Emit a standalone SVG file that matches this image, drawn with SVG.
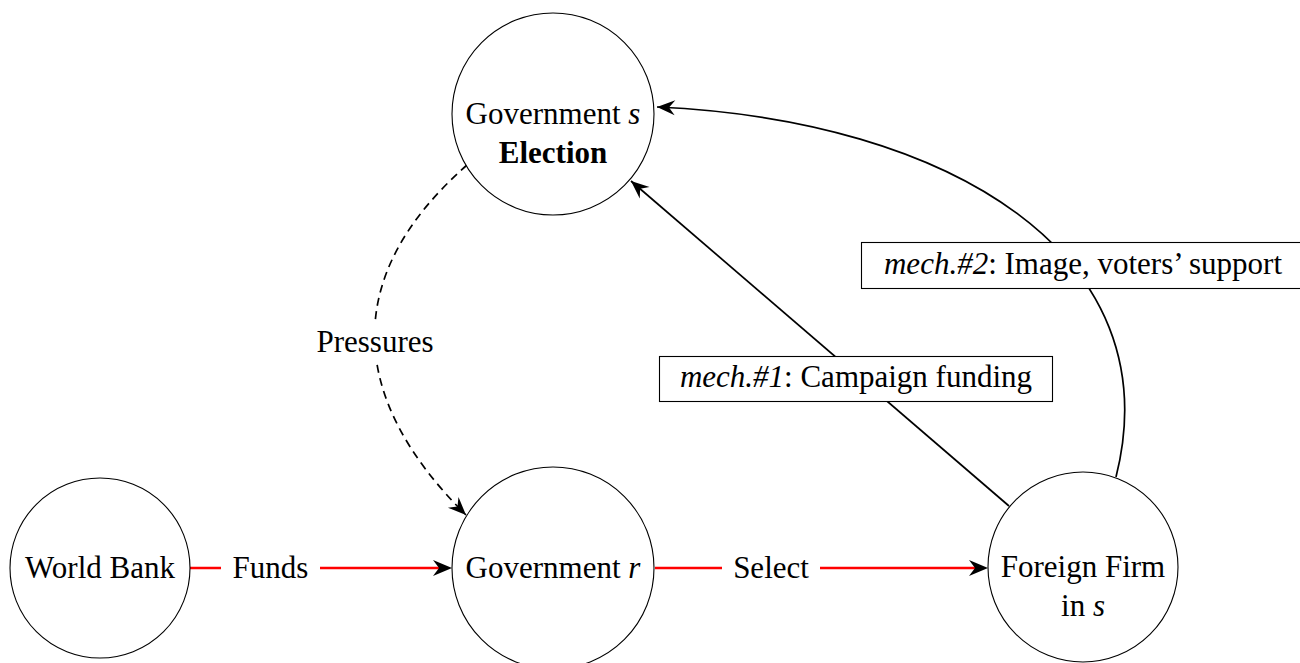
<svg xmlns="http://www.w3.org/2000/svg" width="1300" height="663" viewBox="0 0 1300 663" font-family="'Liberation Serif', 'Times New Roman', Tinos, 'DejaVu Serif', serif">
<style>
text{font-family:'Liberation Serif','Times New Roman',Tinos,'DejaVu Serif',serif;font-size:31px;fill:#000;text-anchor:middle}
.it{font-style:italic}
.bf{font-weight:bold}
.node{fill:#fff;stroke:#000;stroke-width:1.1}
.conn{fill:none;stroke:#000;stroke-width:1.7}
.red{fill:none;stroke:#ff0000;stroke-width:2.6}
.dash{stroke-dasharray:8 5.5}
.bg{fill:#fff;stroke:none}
.box{fill:#fff;stroke:#000;stroke-width:1.1}
</style>
<defs>
<marker id="ah" markerUnits="userSpaceOnUse" viewBox="-1 -9 21 18" markerWidth="21" markerHeight="18" refX="18" refY="0" orient="auto" overflow="visible">
<path d="M18,0 L0,-7.5 L6,0 L0,7.5 Z" fill="#000" stroke="none"/>
</marker>
<marker id="ahr" markerUnits="userSpaceOnUse" viewBox="-1 -10 22 20" markerWidth="22" markerHeight="20" refX="6" refY="0" orient="auto" overflow="visible">
<path d="M19,0 L0,-8 L6,0 L0,8 Z" fill="#000" stroke="none"/>
</marker>
</defs>
<rect width="1300" height="663" fill="#fff"/>
<g id="connectors">
<path class="red" d="M190,568 H439" marker-end="url(#ahr)"/>
<path class="red" d="M655,568 H975" marker-end="url(#ahr)"/>
<path class="conn dash" d="M467,165 C342,275 346,396 466,515" marker-end="url(#ah)"/>
<path class="conn" d="M1009,506 L631,181" marker-end="url(#ah)"/>
<path class="conn" d="M1116,477 C1172,255 950,120 657,107" marker-end="url(#ah)"/>
</g>
<g id="node-govs">
<circle class="node" cx="553" cy="114" r="101"/>
<text x="553" y="124">Government <tspan class="it">s</tspan></text>
<text x="553" y="163" class="bf">Election</text>
</g>
<g id="node-worldbank">
<circle class="node" cx="100" cy="568" r="90"/>
<text x="100" y="578">World Bank</text>
</g>
<g id="node-govr">
<circle class="node" cx="553" cy="568" r="101"/>
<text x="553" y="578">Government <tspan class="it">r</tspan></text>
</g>
<g id="node-firm">
<circle class="node" cx="1083" cy="567" r="95"/>
<text x="1083" y="577">Foreign Firm</text>
<text x="1083" y="616">in <tspan class="it">s</tspan></text>
</g>
<g id="labels">
<rect class="bg" x="221" y="548" width="99" height="40"/>
<text x="270.5" y="578">Funds</text>
<rect class="bg" x="722" y="548" width="98" height="40"/>
<text x="771" y="578">Select</text>
<rect class="bg" x="310" y="321" width="130" height="40"/>
<text x="375" y="352">Pressures</text>
<rect class="box" x="659.5" y="356.5" width="393" height="45"/>
<text x="856" y="387"><tspan class="it">mech.#1</tspan>: Campaign funding</text>
<rect class="box" x="861.5" y="242.5" width="450" height="46"/>
<text x="1083" y="274"><tspan class="it">mech.#2</tspan>: Image, voters’ support</text>
</g>
</svg>
